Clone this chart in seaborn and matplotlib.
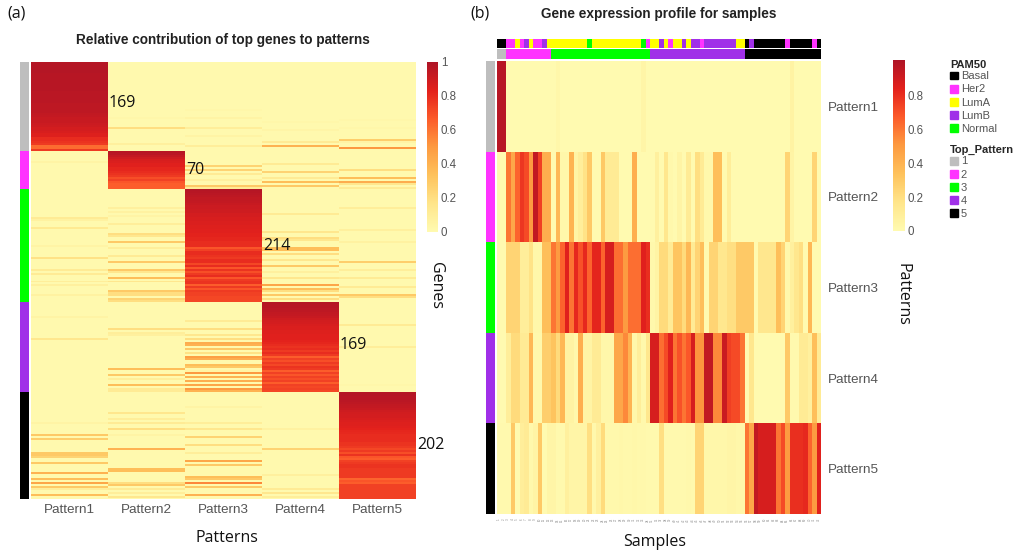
import matplotlib
matplotlib.use("Agg")
import matplotlib.pyplot as plt
import numpy as np
import seaborn as sns
from matplotlib.colors import LinearSegmentedColormap, ListedColormap
from matplotlib.patches import Patch

W, H = 1015, 554

patterns = ["Pattern1", "Pattern2", "Pattern3", "Pattern4", "Pattern5"]
gene_counts = [169, 70, 214, 169, 202]
pam50_names = ["Basal", "Her2", "LumA", "LumB", "Normal"]

# (a) each row stands for about 4 genes, so 220 rows in total
block_rows = [45, 19, 57, 45, 54]

diag_p1 = [.98, .98, .98, .98, .98, .98, .97, .97, .97, .97, .97, .97, .97, .97, .97,
           .96, .96, .96, .96, .96, .96, .95, .95, .95, .95, .95, .94, .93, .92, .92,
           .92, .91, .90, .88, .88, .87, .85, .85, .80, .80, .78, .76, .62, .62, .76]
diag_p2 = [.97, .96, .93, .90, .87, .86, .84, .84, .82, .82, .80, .78, .76, .70, .74,
           .68, .66, .66, .66]
diag_p3 = [.98, .97, .96, .95, .94, .94, .93, .92, .91, .91, .90, .90, .88, .88, .87,
           .87, .86, .86, .85, .85, .84, .84, .83, .83, .82, .82, .80, .80, .80, .68,
           .74, .80, .80, .78, .76, .80, .80, .72, .80, .68, .78, .70, .76, .80, .68,
           .76, .78, .78, .66, .76, .68, .76, .74, .74, .72, .72, .72]
diag_p4 = [.98, .97, .97, .96, .95, .94, .93, .92, .90, .89, .88, .87, .86, .86, .85,
           .85, .84, .84, .84, .83, .82, .80, .78, .80, .76, .80, .76, .66, .74, .70,
           .76, .72, .78, .76, .66, .74, .68, .74, .70, .74, .66, .74, .72, .74, .72]
diag_p5 = [.98, .98, .97, .97, .96, .95, .94, .93, .92, .90, .89, .88, .88, .87, .86,
           .85, .85, .84, .83, .82, .81, .80, .80, .80, .80, .78, .78, .76, .72, .76,
           .70, .78, .68, .66, .74, .76, .78, .78, .76, .76, .76, .76, .76, .64, .68,
           .66, .74, .74, .74, .74, .74, .74, .74, .74]

# rows with visible stripes outside the diagonal, as (row, value)
stripes_p1 = [(50, .05), (78, .12), (79, .07), (83, .13), (92, .05), (98, .18), (104, .12),
              (106, .12), (110, .10), (112, .08), (117, .07), (128, .05), (139, .15),
              (181, .05), (187, .30), (189, .28), (196, .30), (197, .30), (198, .25),
              (201, .30), (206, .40), (209, .35), (211, .45), (213, .30), (214, .10),
              (217, .35)]
stripes_p2 = [(28, .03), (33, .20), (41, .08), (73, .08), (75, .07), (77, .05), (81, .10),
              (86, .20), (87, .15), (90, .30), (93, .10), (97, .12), (100, .30), (104, .30),
              (105, .15), (108, .35), (110, .15), (115, .30), (116, .20), (117, .20),
              (119, .25), (120, .20), (134, .20), (136, .10), (137, .08), (154, .35),
              (157, .30), (159, .10), (162, .35), (164, .12), (165, .12), (176, .15),
              (179, .10), (181, .12), (184, .20), (187, .05), (194, .40), (204, .35),
              (205, .35), (211, .20), (212, .30), (214, .12), (216, .10), (218, .15)]
stripes_p3 = [(24, .03), (28, .05), (33, .10), (37, .05), (42, .10), (52, .25), (54, .25),
              (56, .12), (59, .08), (62, .30), (63, .12), (130, .12), (134, .20), (137, .15),
              (139, .20), (141, .42), (142, .40), (144, .30), (146, .18), (148, .48),
              (149, .42), (152, .35), (153, .30), (155, .05), (156, .50), (158, .40),
              (160, .42), (162, .45), (164, .50), (165, .40), (173, .05), (181, .10),
              (184, .15), (188, .25), (192, .20), (196, .10), (200, .45), (202, .30),
              (208, .35), (209, .30), (211, .55), (213, .30), (217, .40)]
stripes_p4 = [(30, .03), (34, .04), (40, .12), (42, .40), (51, .12), (55, .25), (58, .12),
              (60, .35), (62, .30), (76, .12), (85, .15), (88, .20), (89, .15), (93, .35),
              (94, .35), (96, .20), (99, .15), (102, .30), (105, .08), (108, .15), (112, .45),
              (114, .35), (115, .20), (117, .30), (119, .20), (184, .07), (194, .25),
              (207, .08), (214, .12), (216, .15), (218, .10)]
stripes_p5 = [(29, .03), (33, .03), (39, .28), (40, .05), (43, .50), (54, .20), (58, .35),
              (60, .42), (61, .15), (63, .12), (73, .10), (84, .08), (90, .07), (100, .28),
              (104, .10), (108, .12), (113, .12), (117, .30), (118, .20), (132, .12),
              (143, .10), (162, .03)]

# (b) one value per sample (72 samples), read left to right
samples_p1 = [.98, .98, 0, 0, 0, 0, 0, 0, 0, 0, 0, 0, 0, .03, 0, 0, 0, 0, 0, 0, 0, 0, 0, 0,
              0, 0, 0, 0, 0, 0, 0, 0, .04, 0, 0, 0, 0, 0, 0, 0, 0, 0, 0, 0, 0, 0, 0, 0,
              0, 0, 0, 0, 0, 0, 0, 0, 0, 0, 0, 0, 0, 0, 0, 0, 0, .06, 0, 0, 0, 0, 0, 0]
samples_p2 = [0, 0, .60, .45, .65, .78, .72, .50, .95, .75, .42, .42,
              0, .38, .03, .03, .40, .05, .10, .18, .30, 0, 0, .30, .12, .12, .12, 0, 0, 0,
              .42, 0, 0, 0, 0, .08, 0, .15, .02, 0, .05, 0, .12, 0, .20, .12, .02, .02,
              .35, .35, 0, .10, 0, 0, 0, 0, 0, 0, 0, 0, 0, 0, 0, 0, .25, .05, 0, 0, 0, 0,
              .25, 0]
samples_p3 = [0, 0, .25, .25, .25, .10, .10, .18, .03, .03, .35, .35,
              .60, .50, .65, .85, .60, .82, .70, .82, .65, .83, .83, .65, .88, .88, .62, .62,
              .50, .62, .62, .62, .85, .80, .02, .05, .22, .22, .12, .32, .32, .22, .38, .12,
              .25, .35, 0, .25, .25, .15, .15, .20, .20, .30, .30, .30, .30, 0, .15, .15,
              .15, .15, .35, .25, .02, .08, .15, .20, 0, .38, 0, 0]
samples_p4 = [0, 0, .10, .22, .22, .12, .12, .38, .02, .02, .28, .28,
              .33, .22, .38, .06, .06, .02, .42, .05, .05, .12, .12, .03, .03, .03, .45, .45,
              .55, .40, .03, .10, .02, .15, .88, .88, .62, .72, .85, .60, .70, .60, .68, .88,
              .52, .52, .95, .95, .55, .55, .92, .75, .72, .72, .60, 0, .15, 0, 0, 0, 0, 0,
              0, 0, .30, .01, .01, .12, .12, .08, .35, .12]
samples_p5 = [.01, .01, .01, .30, 0, .10, .12, .02, .05, .30, 0, .04, .04, .01, .01, .08,
              .04, .04, .04, .04, .20, .02, .08, .22, .02, .02, .02, .03, .02, .02, .03, .02,
              .02, .01, .01, .01, .20, .01, .01, .01, .01, .01, .02, .01, .25, .25, .03, .03,
              .03, .03, .03, .04, .04, .03, .03, .60, .45, .95, .88, .88, .88, .88, .60, .72,
              .50, .80, .80, .80, .82, .65, .50, .85]

pam50_runs = [(0, 2), (1, 2), (2, 1), (1, 1), (3, 1), (2, 1), (1, 2), (3, 1), (2, 9), (4, 1),
              (2, 11), (4, 1), (1, 1), (2, 2), (3, 1), (2, 1), (1, 1), (2, 2), (3, 1), (2, 1),
              (3, 2), (1, 1), (3, 7), (2, 2), (0, 1), (3, 1), (0, 7), (1, 1), (0, 5), (1, 1),
              (0, 1)]
top_pattern_sizes = [2, 10, 22, 21, 17]

pam50_colors = ["#000000", "#FF33FF", "#FFFF00", "#A030E8", "#00FF00"]
top_colors = ["#BEBEBE", "#FF33FF", "#00FF00", "#A030E8", "#000000"]
heat_colors = ["#FFFAB0", "#FFE58A", "#FEC25C", "#FD9A40", "#FC5A2A", "#E3211C", "#AE1426"]
grey_text = "#555555"

heat_cmap = LinearSegmentedColormap.from_list("heat", heat_colors)


def px_axes(fig, x0, y0, x1, y1):
    return fig.add_axes([x0 / W, 1 - y1 / H, (x1 - x0) / W, (y1 - y0) / H])


def bare_heatmap(ax, data, cmap, vmin, vmax):
    sns.heatmap(data, ax=ax, cmap=cmap, vmin=vmin, vmax=vmax, cbar=False,
                xticklabels=False, yticklabels=False)


def build_gene_matrix():
    mat = np.full((sum(block_rows), 5), 0.01)
    start = 0
    diags = [diag_p1, diag_p2, diag_p3, diag_p4, diag_p5]
    stripes = [stripes_p1, stripes_p2, stripes_p3, stripes_p4, stripes_p5]
    for col in range(5):
        for row, val in stripes[col]:
            mat[row, col] = val
        mat[start:start + block_rows[col], col] = diags[col]
        start += block_rows[col]
    return mat


def colorbar(fig, mappable, box, ticks, labels):
    cax = px_axes(fig, *box)
    cb = fig.colorbar(mappable, cax=cax)
    cb.outline.set_visible(False)
    cb.set_ticks(ticks)
    cb.set_ticklabels(labels)
    cax.tick_params(length=0, pad=2, labelsize=8.3, labelcolor=grey_text)


def main():
    sns.set_theme(style="white")
    plt.rcParams["font.family"] = ["Liberation Sans", "DejaVu Sans"]
    fig = plt.figure(figsize=(W / 100, H / 100), dpi=100)

    # panel (a)
    gene_matrix = build_gene_matrix()
    ax_a = px_axes(fig, 31, 61.5, 416, 499.5)
    sns.heatmap(gene_matrix, ax=ax_a, cmap=heat_cmap, vmin=0, vmax=1, cbar=False,
                xticklabels=patterns, yticklabels=False)
    ax_a.tick_params(axis="x", length=0, pad=3, labelsize=9.7, labelcolor=grey_text, rotation=0)

    gene_top = np.repeat(np.arange(5), block_rows).reshape(-1, 1)
    bare_heatmap(px_axes(fig, 19.5, 61.5, 29, 499.5), gene_top, ListedColormap(top_colors), 0, 4)
    colorbar(fig, ax_a.collections[0], (427, 62, 438, 232), [0, .2, .4, .6, .8, 1],
             ["0", "0.2", "0.4", "0.6", "0.8", "1"])

    count_pos = [(109, 103), (186, 170), (263, 246), (340, 345), (417, 445)]
    for (x, y), n in zip(count_pos, gene_counts):
        fig.text(x / W, 1 - y / H, str(n), fontsize=11.5, family="Open Sans",
                 color="#111111", va="center", ha="left")

    # panel (b)
    sample_matrix = np.array([samples_p1, samples_p2, samples_p3, samples_p4, samples_p5])
    sample_labels = [str(i + 1) for i in range(sample_matrix.shape[1])]
    ax_b = px_axes(fig, 497, 61, 821, 514)
    sns.heatmap(sample_matrix, ax=ax_b, cmap=heat_cmap, vmin=0, vmax=1.01, cbar=False,
                xticklabels=sample_labels, yticklabels=patterns)
    ax_b.yaxis.tick_right()
    ax_b.tick_params(axis="y", length=0, pad=5, labelsize=9.7, labelcolor=grey_text, labelrotation=0)
    ax_b.tick_params(axis="x", length=0, pad=3, labelsize=2.2, labelcolor="#888888", labelrotation=90)

    pam50 = np.concatenate([[c] * n for c, n in pam50_runs]).reshape(1, -1)
    bare_heatmap(px_axes(fig, 497, 38.5, 821, 47.5), pam50, ListedColormap(pam50_colors), 0, 4)
    top_row = np.repeat(np.arange(5), top_pattern_sizes).reshape(1, -1)
    bare_heatmap(px_axes(fig, 497, 49.5, 821, 59), top_row, ListedColormap(top_colors), 0, 4)
    side = np.arange(5).reshape(-1, 1)
    bare_heatmap(px_axes(fig, 485.5, 61, 495, 514), side, ListedColormap(top_colors), 0, 4)
    colorbar(fig, ax_b.collections[0], (893, 60, 904.5, 231), [0, .2, .4, .6, .8],
             ["0", "0.2", "0.4", "0.6", "0.8"])

    # legends
    for names, cols, title, top in [(pam50_names, pam50_colors, "PAM50", 60),
                                    (["1", "2", "3", "4", "5"], top_colors, "Top_Pattern", 145)]:
        handles = [Patch(color=c, label=n) for c, n in zip(cols, names)]
        leg = fig.legend(handles=handles, title=title, loc="upper left",
                         bbox_to_anchor=(950 / W, 1 - top / H), frameon=False, fontsize=8,
                         title_fontproperties={"weight": "bold", "size": 8},
                         handlelength=0.72, handleheight=0.72, handletextpad=0.25,
                         labelspacing=0.28, borderpad=0, borderaxespad=0, alignment="left")
        leg._legend_box.sep = 1
        for t in leg.get_texts():
            t.set_color(grey_text)

    # titles and labels
    fig.text(223 / W, 1 - 40 / H, "Relative contribution of top genes to patterns",
             fontsize=9.8, fontweight="bold", color="#222222", ha="center", va="center")
    fig.text(659 / W, 1 - 14 / H, "Gene expression profile for samples",
             fontsize=9.8, fontweight="bold", color="#222222", ha="center", va="center")
    label_font = dict(family="Open Sans", fontsize=11.5, color="#111111", ha="center", va="center")
    fig.text(17 / W, 1 - 14 / H, "(a)", **label_font)
    fig.text(480 / W, 1 - 14 / H, "(b)", **label_font)
    fig.text(227 / W, 1 - 538 / H, "Patterns", **label_font)
    fig.text(655 / W, 1 - 542 / H, "Samples", **label_font)
    fig.text(436 / W, 1 - 285 / H, "Genes", rotation=270, **label_font)
    fig.text(903 / W, 1 - 294 / H, "Patterns", rotation=270, **label_font)

    fig.savefig("out.png", dpi=100)


if __name__ == "__main__":
    main()
